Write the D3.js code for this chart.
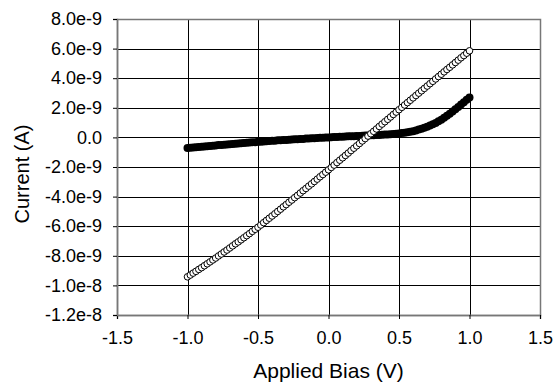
<!DOCTYPE html>
<html>
<head>
<meta charset="utf-8">
<script src="https://cdn.jsdelivr.net/npm/d3@7"></script>
<style>
  body { margin: 0; background: #fff; }
  text { font-family: "Liberation Sans", Arial, sans-serif; fill: #000; }
</style>
</head>
<body>
<div id="chart"></div>
<script>
// Applied bias sweep (V)
const bias = [
  -1.00,-0.98,-0.96,-0.94,-0.92,-0.90,-0.88,-0.86,-0.84,-0.82,
  -0.80,-0.78,-0.76,-0.74,-0.72,-0.70,-0.68,-0.66,-0.64,-0.62,
  -0.60,-0.58,-0.56,-0.54,-0.52,-0.50,-0.48,-0.46,-0.44,-0.42,
  -0.40,-0.38,-0.36,-0.34,-0.32,-0.30,-0.28,-0.26,-0.24,-0.22,
  -0.20,-0.18,-0.16,-0.14,-0.12,-0.10,-0.08,-0.06,-0.04,-0.02,
   0.00, 0.02, 0.04, 0.06, 0.08, 0.10, 0.12, 0.14, 0.16, 0.18,
   0.20, 0.22, 0.24, 0.26, 0.28, 0.30, 0.32, 0.34, 0.36, 0.38,
   0.40, 0.42, 0.44, 0.46, 0.48, 0.50, 0.52, 0.54, 0.56, 0.58,
   0.60, 0.62, 0.64, 0.66, 0.68, 0.70, 0.72, 0.74, 0.76, 0.78,
   0.80, 0.82, 0.84, 0.86, 0.88, 0.90, 0.92, 0.94, 0.96, 0.98,
   1.00
];

// open circles, current in nA
const currentOpen = [
  -9.42,-9.30,-9.17,-9.05,-8.92,-8.80,-8.67,-8.54,-8.41,-8.28,
  -8.15,-8.01,-7.88,-7.74,-7.61,-7.47,-7.33,-7.19,-7.06,-6.92,
  -6.78,-6.64,-6.50,-6.35,-6.21,-6.07,-5.92,-5.76,-5.61,-5.46,
  -5.31,-5.16,-5.00,-4.85,-4.69,-4.54,-4.38,-4.23,-4.07,-3.92,
  -3.76,-3.60,-3.45,-3.29,-3.14,-2.98,-2.82,-2.66,-2.51,-2.35,
  -2.19,-2.03,-1.87,-1.70,-1.54,-1.38,-1.22,-1.06,-0.89,-0.73,
  -0.57,-0.41,-0.24,-0.08, 0.09, 0.25, 0.41, 0.57, 0.74, 0.90,
   1.06, 1.22, 1.38, 1.55, 1.71, 1.87, 2.03, 2.19, 2.35, 2.51,
   2.67, 2.83, 2.99, 3.15, 3.31, 3.47, 3.63, 3.79, 3.95, 4.11,
   4.27, 4.43, 4.59, 4.74, 4.90, 5.06, 5.22, 5.38, 5.53, 5.69,
   5.85
];

// filled circles, current in nA
const currentFilled = [
  -0.72,-0.70,-0.68,-0.67,-0.65,-0.63,-0.61,-0.59,-0.58,-0.56,
  -0.54,-0.52,-0.51,-0.49,-0.48,-0.46,-0.44,-0.43,-0.41,-0.40,
  -0.38,-0.36,-0.35,-0.33,-0.32,-0.30,-0.29,-0.27,-0.26,-0.24,
  -0.23,-0.22,-0.20,-0.19,-0.18,-0.17,-0.16,-0.14,-0.13,-0.12,
  -0.11,-0.10,-0.08,-0.07,-0.06,-0.05,-0.04,-0.03,-0.02,-0.01,
   0.00, 0.01, 0.02, 0.03, 0.04, 0.05, 0.06, 0.07, 0.07, 0.08,
   0.09, 0.10, 0.11, 0.12, 0.13, 0.14, 0.15, 0.16, 0.17, 0.18,
   0.19, 0.20, 0.22, 0.23, 0.25, 0.27, 0.29, 0.32, 0.35, 0.38,
   0.42, 0.47, 0.53, 0.58, 0.65, 0.72, 0.80, 0.89, 0.98, 1.09,
   1.20, 1.33, 1.46, 1.60, 1.75, 1.90, 2.06, 2.22, 2.38, 2.54,
   2.70
];

const xTicks = [-1.5, -1.0, -0.5, 0.0, 0.5, 1.0, 1.5];
const xTickLabels = ["-1.5", "-1.0", "-0.5", "0.0", "0.5", "1.0", "1.5"];
const yTicks = [-12, -10, -8, -6, -4, -2, 0, 2, 4, 6, 8]; // nA
const yTickLabels = ["-1.2e-8", "-1.0e-8", "-8.0e-9", "-6.0e-9", "-4.0e-9", "-2.0e-9",
                     "0.0", "2.0e-9", "4.0e-9", "6.0e-9", "8.0e-9"];

const width = 554, height = 383;
const margin = { top: 19, right: 14, bottom: 68, left: 117 };
const innerW = width - margin.left - margin.right;
const innerH = height - margin.top - margin.bottom;

const svg = d3.select("#chart").append("svg")
    .attr("width", width)
    .attr("height", height);

const g = svg.append("g")
    .attr("transform", "translate(" + margin.left + "," + margin.top + ")");

const x = d3.scaleLinear().domain([-1.5, 1.5]).range([0, innerW]);
const y = d3.scaleLinear().domain([-12, 8]).range([innerH, 0]);

// grid lines
g.append("g").selectAll("line")
    .data(yTicks)
    .enter().append("line")
    .attr("x1", 0).attr("x2", innerW)
    .attr("y1", d => Math.round(y(d)) + 0.5)
    .attr("y2", d => Math.round(y(d)) + 0.5)
    .attr("stroke", "#000")
    .attr("stroke-width", 1);

g.append("g").selectAll("line")
    .data(xTicks)
    .enter().append("line")
    .attr("y1", 0).attr("y2", innerH)
    .attr("x1", d => Math.round(x(d)) + 0.5)
    .attr("x2", d => Math.round(x(d)) + 0.5)
    .attr("stroke", "#000")
    .attr("stroke-width", 1);

// plot frame
g.append("rect")
    .attr("x", 0.5).attr("y", 0.5)
    .attr("width", innerW).attr("height", innerH)
    .attr("fill", "none")
    .attr("stroke", "#777")
    .attr("stroke-width", 1.5);

// axes
const xAxis = g.append("g")
    .attr("transform", "translate(0," + innerH + ")")
    .call(d3.axisBottom(x).tickValues(xTicks).tickFormat((d, i) => xTickLabels[i]).tickSize(4).tickPadding(10));

const yAxis = g.append("g")
    .call(d3.axisLeft(y).tickValues(yTicks).tickFormat((d, i) => yTickLabels[i]).tickSize(4).tickPadding(11));

[xAxis, yAxis].forEach(ax => {
    ax.select(".domain").attr("stroke", "#777").attr("stroke-width", 1.5);
    ax.selectAll(".tick line").attr("stroke", "#000");
    ax.selectAll("text")
        .style("font-family", "'Liberation Sans', Arial, sans-serif")
        .style("font-size", "18px")
        .attr("fill", "#000");
});
xAxis.selectAll("text").attr("dy", "0.85em");

// filled series
g.append("g").selectAll("circle")
    .data(bias.map((b, i) => [b, currentFilled[i]]))
    .enter().append("circle")
    .attr("cx", d => x(d[0]))
    .attr("cy", d => y(d[1]))
    .attr("r", 4)
    .attr("fill", "#000");

// open series
g.append("g").selectAll("circle")
    .data(bias.map((b, i) => [b, currentOpen[i]]))
    .enter().append("circle")
    .attr("cx", d => x(d[0]))
    .attr("cy", d => y(d[1]))
    .attr("r", 3.3)
    .attr("fill", "#fff")
    .attr("stroke", "#000")
    .attr("stroke-width", 1);

// axis titles
svg.append("text")
    .attr("x", margin.left + innerW / 2)
    .attr("y", 378)
    .attr("text-anchor", "middle")
    .style("font-size", "21px")
    .text("Applied Bias (V)");

svg.append("text")
    .attr("transform", "translate(29," + (margin.top + innerH / 2 + 7) + ") rotate(-90)")
    .attr("text-anchor", "middle")
    .style("font-size", "20px")
    .text("Current (A)");
</script>
</body>
</html>
